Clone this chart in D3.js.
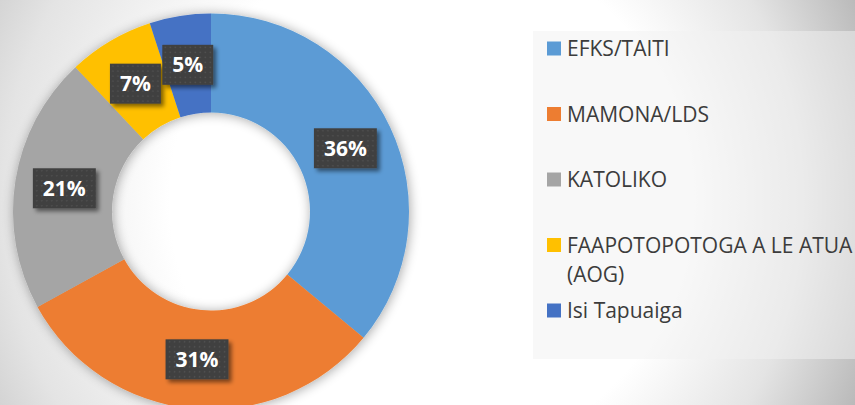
<!DOCTYPE html>
<html>
<head>
<meta charset="utf-8">
<script src="https://cdn.jsdelivr.net/npm/d3@7"></script>
<style>
  html, body { margin: 0; padding: 0; overflow: hidden; }
  svg { display: block; }
</style>
</head>
<body>
<div id="chart"></div>
<script>
// data
const categories = ["EFKS/TAITI", "MAMONA/LDS", "KATOLIKO", "FAAPOTOPOTOGA A LE ATUA (AOG)", "Isi Tapuaiga"];
const legendLines = [["EFKS/TAITI"], ["MAMONA/LDS"], ["KATOLIKO"], ["FAAPOTOPOTOGA A LE ATUA", "(AOG)"], ["Isi Tapuaiga"]];
const values = [36, 31, 21, 7, 5];
const colors = ["#5b9bd5", "#ed7d31", "#a5a5a5", "#ffc000", "#4472c4"];

const width = 855, height = 405;
const cx = 211, cy = 211.5;
const outerR = 198, innerR = 99;

const svg = d3.select("#chart").append("svg")
    .attr("width", width)
    .attr("height", height);

const defs = svg.append("defs");

// background gradient (white middle, greyer to the right)
const bg = defs.append("radialGradient")
    .attr("id", "bg")
    .attr("gradientUnits", "userSpaceOnUse")
    .attr("cx", 380).attr("cy", 200).attr("r", 520)
    .attr("fx", 480).attr("fy", 200);
bg.append("stop").attr("offset", "0").attr("stop-color", "#ffffff");
bg.append("stop").attr("offset", "0.5").attr("stop-color", "#ffffff");
bg.append("stop").attr("offset", "0.77").attr("stop-color", "#e4e4e4");
bg.append("stop").attr("offset", "1").attr("stop-color", "#b8b8b8");

// soft shadow round the ring
const sh = defs.append("filter").attr("id", "ringShadow")
    .attr("x", "-20%").attr("y", "-20%").attr("width", "140%").attr("height", "140%");
sh.append("feGaussianBlur").attr("in", "SourceAlpha").attr("stdDeviation", 6).attr("result", "b");
sh.append("feOffset").attr("in", "b").attr("dx", 1).attr("dy", 1).attr("result", "o");
sh.append("feComponentTransfer").attr("in", "o").attr("result", "s")
    .append("feFuncA").attr("type", "linear").attr("slope", 0.35);
const shm = sh.append("feMerge");
shm.append("feMergeNode").attr("in", "s");
shm.append("feMergeNode").attr("in", "SourceGraphic");

// label box shadow
const lf = defs.append("filter").attr("id", "boxShadow")
    .attr("x", "-30%").attr("y", "-30%").attr("width", "170%").attr("height", "170%");
lf.append("feGaussianBlur").attr("in", "SourceAlpha").attr("stdDeviation", 2).attr("result", "b");
lf.append("feOffset").attr("in", "b").attr("dx", 3).attr("dy", 3).attr("result", "o");
lf.append("feComponentTransfer").attr("in", "o").attr("result", "s")
    .append("feFuncA").attr("type", "linear").attr("slope", 0.5);
const lfm = lf.append("feMerge");
lfm.append("feMergeNode").attr("in", "s");
lfm.append("feMergeNode").attr("in", "SourceGraphic");

// dotted fill for labels
const pat = defs.append("pattern").attr("id", "dots")
    .attr("patternUnits", "userSpaceOnUse")
    .attr("width", 5).attr("height", 5);
pat.append("rect").attr("width", 5).attr("height", 5).attr("fill", "#404040");
pat.append("circle").attr("cx", 2.5).attr("cy", 2.5).attr("r", 0.8).attr("fill", "#555555");

svg.append("rect")
    .attr("width", width).attr("height", height)
    .attr("fill", "url(#bg)");

// legend panel
svg.append("rect")
    .attr("x", 533).attr("y", 31)
    .attr("width", width - 533).attr("height", 328)
    .attr("fill", "#f2f2f2").attr("fill-opacity", 0.5);

// donut
const pie = d3.pie().sort(null).value(d => d);
const arcs = pie(values);
const arc = d3.arc().innerRadius(innerR).outerRadius(outerR);
const labelArc = d3.arc().innerRadius((innerR + outerR) / 2).outerRadius((innerR + outerR) / 2);

const g = svg.append("g").attr("transform", `translate(${cx},${cy})`);

g.append("g")
    .attr("filter", "url(#ringShadow)")
    .selectAll("path")
    .data(arcs)
    .join("path")
    .attr("d", arc)
    .attr("fill", (d, i) => colors[i]);

// labels
const total = d3.sum(values);
const lab = g.selectAll(".lab")
    .data(arcs)
    .join("g")
    .attr("class", "lab")
    .attr("transform", d => `translate(${labelArc.centroid(d)})`);

lab.each(function(d) {
    const el = d3.select(this);
    const box = el.append("rect").attr("fill", "url(#dots)").attr("filter", "url(#boxShadow)");
    const t = el.append("text")
        .attr("text-anchor", "middle")
        .attr("dy", "0.36em")
        .attr("fill", "#ffffff")
        .style("font-family", "'Open Sans', sans-serif")
        .style("font-weight", "bold")
        .style("font-size", "21px")
        .text(d3.format(".0%")(d.data / total));
    const w = t.node().getComputedTextLength() + 20;
    box.attr("x", -w / 2).attr("y", -20).attr("width", w).attr("height", 40);
});

// legend
const legendY = d3.scalePoint()
    .domain(categories)
    .range([48.5, 310.5]);

const leg = svg.append("g").selectAll("g")
    .data(categories)
    .join("g")
    .attr("transform", d => `translate(547,${legendY(d)})`);

leg.append("rect")
    .attr("x", 0).attr("y", -7)
    .attr("width", 14).attr("height", 14)
    .attr("fill", (d, i) => colors[i]);

leg.append("text")
    .attr("fill", "#3c3c3c")
    .style("font-family", "'Open Sans', sans-serif")
    .style("font-size", "21px")
    .selectAll("tspan")
    .data((d, i) => legendLines[i])
    .join("tspan")
    .attr("x", 20)
    .attr("y", (d, j) => j * 29.5)
    .attr("dy", "0.36em")
    .text(d => d);
</script>
</body>
</html>
